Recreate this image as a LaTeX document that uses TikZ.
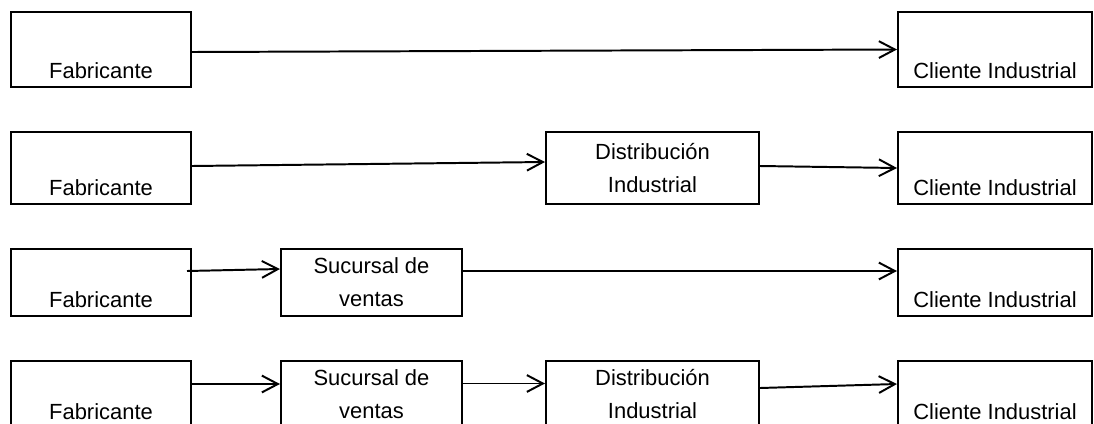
\documentclass[tikz,border=0pt]{standalone}
\usepackage{fontspec}
\setmainfont{Liberation Sans}
\usetikzlibrary{arrows.meta,positioning,calc}
\tikzset{
  % Base styles
  channel base/.style={
    x=0.025cm, y=-0.025cm,
    every node/.style={font=\fontsize{15.6}{23.5}\selectfont},
  },
  % Boxes of the channels
  chain box/.style={rectangle, draw, line width=1.4pt, inner sep=0pt},
  end box/.style={chain box, text depth=0.21cm, text height=#1},
  mid box/.style={chain box, align=center, minimum height=#1},
  fab box/.style={end box=#1, minimum width=4.5cm},
  cli box/.style={end box=#1, minimum width=4.85cm},
  suc box/.style={mid box=#1, minimum width=4.525cm},
  dis box/.style={mid box=#1, minimum width=5.325cm},
  % Connectors
  flow/.style={-{Straight Barb[length=4mm,width=4.2mm]}, line width=1.4pt},
}

\begin{document}
\begin{tikzpicture}[channel base]
\useasboundingbox (0,0) rectangle (1094,423);

% Channel 1
\node[fab box=1.665cm] (fab1) at (101,49.5) {Fabricante};
\node[cli box=1.665cm] (cli1) at (995,49.5) {Cliente Industrial};

% Channel 2
\node[fab box=1.59cm] (fab2) at (101,168) {Fabricante};
\node[dis box=1.8cm] (dis2) at (652.5,168) {Distribución\\Industrial};
\node[cli box=1.59cm] (cli2) at (995,168) {Cliente Industrial};

% Channel 3
\node[fab box=1.465cm] (fab3) at (101,282.5) {Fabricante};
\node[suc box=1.675cm] (suc3) at (371.5,282.5) {Sucursal de\\ventas};
\node[cli box=1.465cm] (cli3) at (995,282.5) {Cliente Industrial};

% Channel 4
\node[fab box=1.465cm] (fab4) at (101,394.5) {Fabricante};
\node[suc box=1.675cm] (suc4) at (371.5,394.5) {Sucursal de\\ventas};
\node[dis box=1.675cm] (dis4) at (652.5,394.5) {Distribución\\Industrial};
\node[cli box=1.465cm] (cli4) at (995,394.5) {Cliente Industrial};

% Edges
\draw[flow] ($(fab1.east)+(0,2.5)$) -- (cli1.west);
\draw[flow] ($(fab2.east)+(0,-2)$) -- ($(dis2.west)+(0,-6)$);
\draw[flow] ($(dis2.east)+(0,-2)$) -- (cli2.west);
\draw[flow] ($(fab3.east)+(-5,-11.5)$) -- ($(suc3.west)+(0,-13.5)$);
\draw[flow] ($(suc3.east)+(0,-11.5)$) -- ($(cli3.west)+(0,-11.5)$);
\draw[flow] ($(fab4.east)+(0,-10.5)$) -- ($(suc4.west)+(0,-10.5)$);
\draw[flow] ($(suc4.east)+(0,-11)$) -- ($(dis4.west)+(0,-11)$);
\draw[flow] ($(dis4.east)+(0,-6.5)$) -- ($(cli4.west)+(0,-10.5)$);
\end{tikzpicture}
\end{document}
